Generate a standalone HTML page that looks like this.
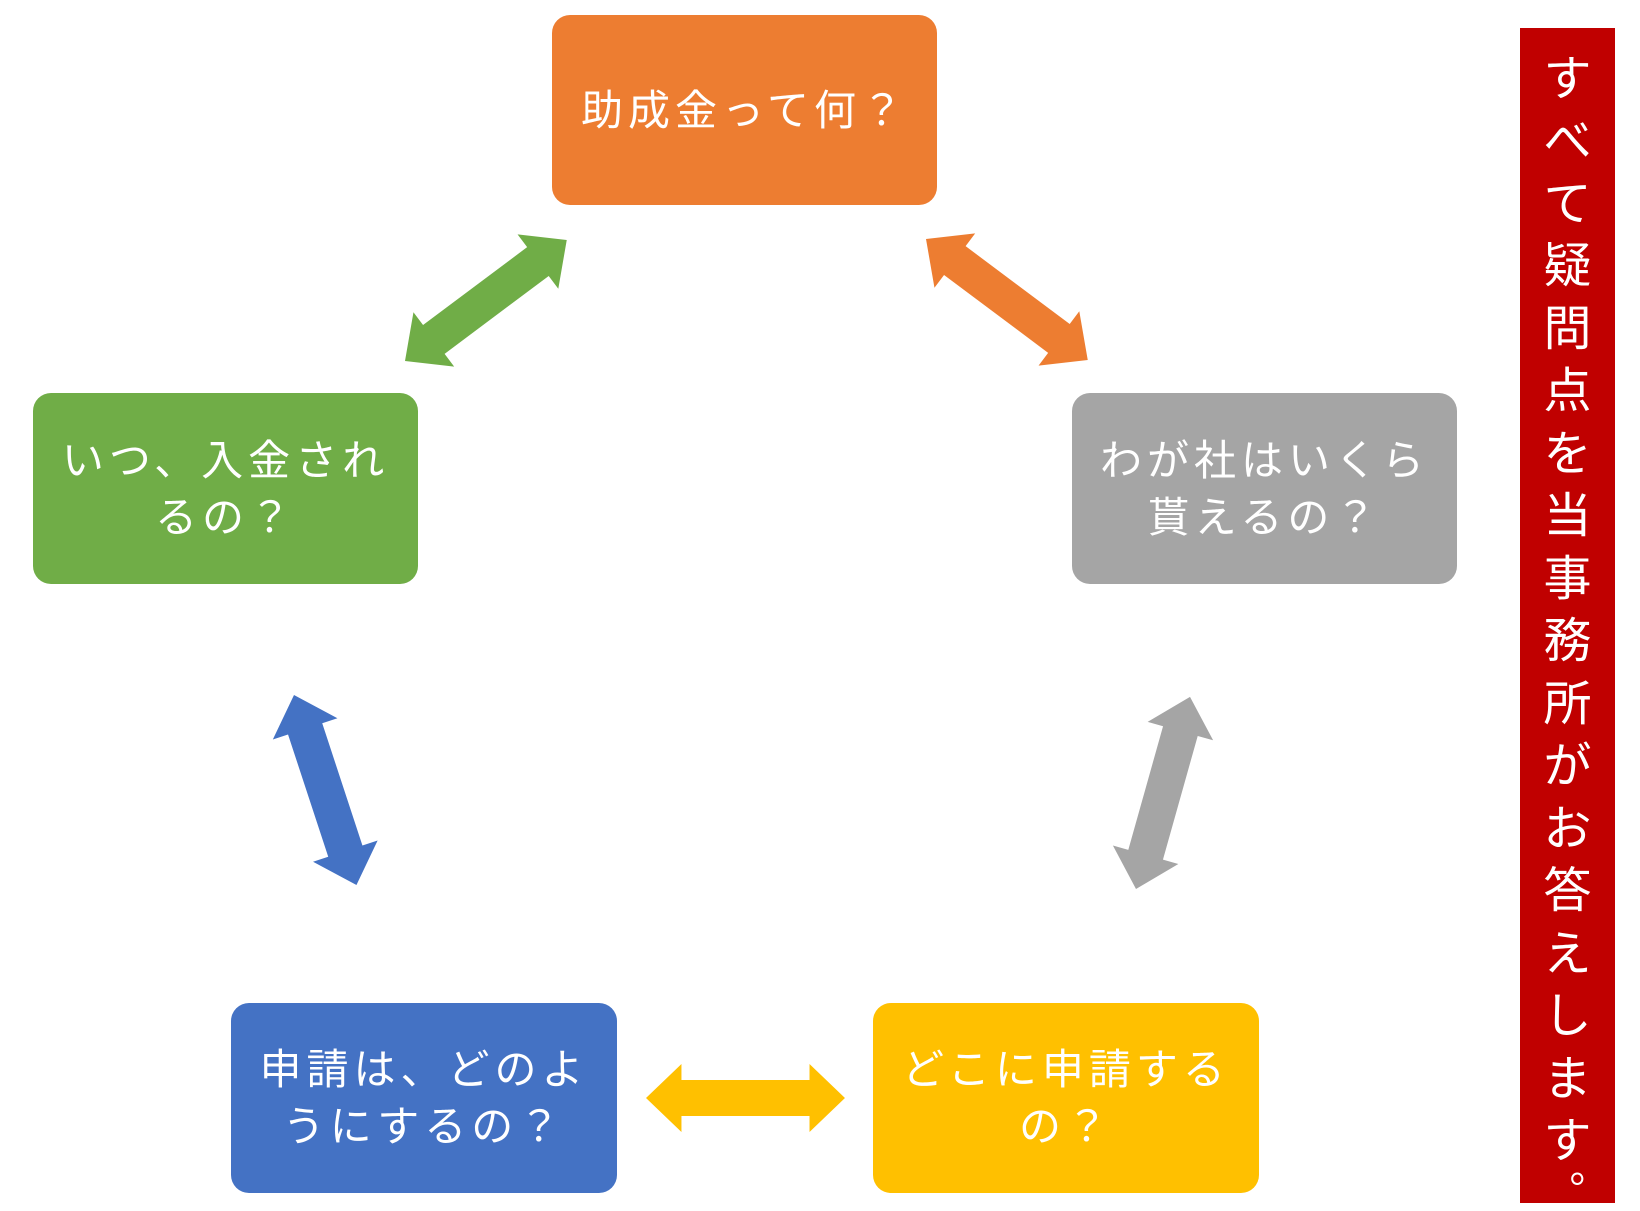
<!DOCTYPE html>
<html><head><meta charset="utf-8"><style>
html,body{margin:0;padding:0;background:#fff;}
body{width:1640px;height:1211px;position:relative;overflow:hidden;font-family:"Liberation Sans","Noto Sans CJK JP",sans-serif;}
.box{position:absolute;border-radius:18px;color:#fff;display:flex;align-items:center;justify-content:center;text-align:center;font-size:42px;line-height:57px;letter-spacing:5px;}
.bar{position:absolute;left:1520px;top:28px;width:95px;height:1175px;background:#c00000;color:#fff;font-size:48px;}
.bar div{position:absolute;left:0;width:95px;text-align:center;height:62px;line-height:62px;}
svg{position:absolute;left:0;top:0;}
</style></head><body>
<div class="box" style="left:552px;top:15px;width:385px;height:190px;background:#ed7d31;">助成金って何？</div>
<div class="box" style="left:33px;top:393px;width:385px;height:191px;background:#70ad47;">いつ、入金され<br>るの？</div>
<div class="box" style="left:1072px;top:393px;width:385px;height:191px;background:#a5a5a5;">わが社はいくら<br>貰えるの？</div>
<div class="box" style="left:231px;top:1003px;width:386px;height:190px;background:#4472c4;">申請は、どのよ<br>うにするの？</div>
<div class="box" style="left:873px;top:1003px;width:386px;height:190px;background:#ffc000;">どこに申請する<br>の？</div>
<svg width="1640" height="1211">
<defs><polygon id="a" points="0,0 36,-34 36,-18 166,-18 166,-34 202,0 166,34 166,18 36,18 36,34"/></defs>
<use href="#a" fill="#70ad47" transform="translate(405,361) rotate(-36.8)"/>
<use href="#a" fill="#ed7d31" transform="translate(926,239) rotate(36.8)"/>
<use href="#a" fill="#a5a5a5" transform="translate(1136,889) rotate(-74.3) scale(0.988,1)"/>
<use href="#a" fill="#4472c4" transform="translate(294,695) rotate(71.8) scale(0.99,1)"/>
<use href="#a" fill="#ffc000" transform="translate(646,1098) scale(0.985,1)"/>
</svg>
<div class="bar">
<div style="top:21px">す</div><div style="top:83px">べ</div><div style="top:146px">て</div><div style="top:208px">疑</div><div style="top:271px">問</div><div style="top:333px">点</div><div style="top:396px">を</div><div style="top:458px">当</div><div style="top:521px">事</div><div style="top:583px">務</div><div style="top:646px">所</div><div style="top:708px">が</div><div style="top:771px">お</div><div style="top:833px">答</div><div style="top:896px">え</div><div style="top:958px">し</div><div style="top:1021px">ま</div><div style="top:1083px">す</div>
<div style="top:1110px;left:22px;font-size:40px">。</div>
</div>
</body></html>
